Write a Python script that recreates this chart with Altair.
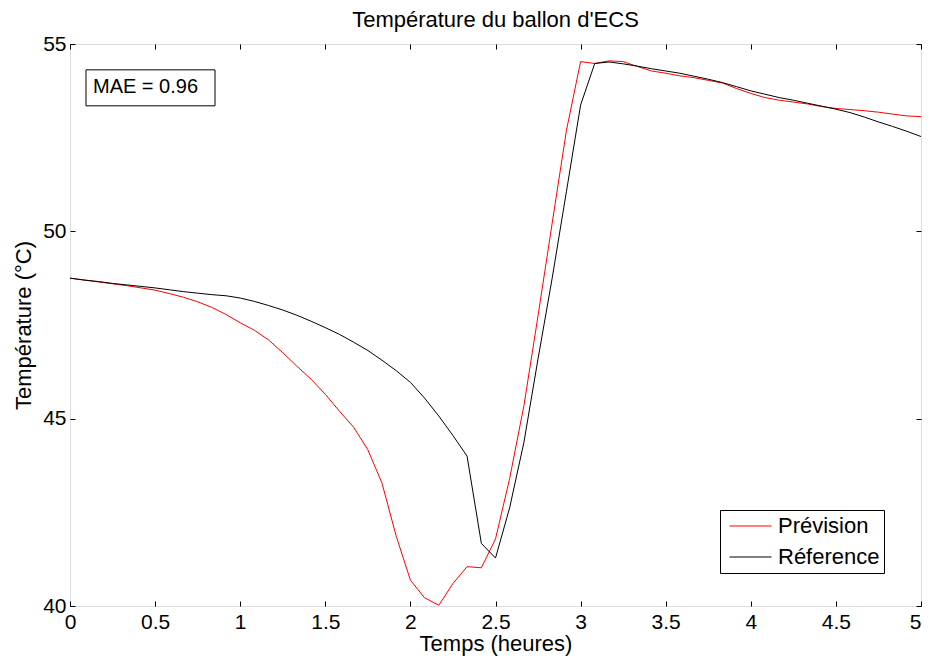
import altair as alt
import pandas as pd

# ---------------- data ----------------
time_h = [0.0, 0.083, 0.167, 0.25, 0.333, 0.417, 0.5, 0.583, 0.667, 0.75,
          0.833, 0.917, 1.0, 1.083, 1.167, 1.25, 1.333, 1.417, 1.5, 1.583,
          1.667, 1.75, 1.833, 1.917, 2.0, 2.083, 2.167, 2.25, 2.333, 2.417,
          2.5, 2.583, 2.667, 2.75, 2.833, 2.917, 3.0, 3.083, 3.167, 3.25,
          3.333, 3.417, 3.5, 3.583, 3.667, 3.75, 3.833, 3.917, 4.0, 4.083,
          4.167, 4.25, 4.333, 4.417, 4.5, 4.583, 4.667, 4.75, 4.833, 4.917, 5.0]

prevision = [48.75, 48.70, 48.65, 48.60, 48.55, 48.49, 48.43, 48.34, 48.24, 48.12,
             47.97, 47.78, 47.56, 47.36, 47.10, 46.76, 46.40, 46.05, 45.65, 45.20,
             44.77, 44.17, 43.28, 41.86, 40.69, 40.22, 40.02, 40.60, 41.05, 41.02,
             41.79, 43.40, 45.35, 47.75, 50.22, 52.70, 54.53, 54.48, 54.55, 54.53,
             54.40, 54.28, 54.22, 54.15, 54.10, 54.03, 53.96, 53.81, 53.68, 53.57,
             53.50, 53.45, 53.40, 53.33, 53.28, 53.25, 53.22, 53.18, 53.13, 53.08, 53.06]

reference = [48.75, 48.70, 48.66, 48.61, 48.57, 48.53, 48.49, 48.44, 48.39, 48.35,
             48.31, 48.28, 48.22, 48.13, 48.02, 47.90, 47.76, 47.60, 47.43, 47.25,
             47.04, 46.82, 46.56, 46.28, 45.97, 45.55, 45.07, 44.55, 44.00, 41.67,
             41.28, 42.62, 44.37, 46.60, 48.75, 51.07, 53.37, 54.48, 54.52, 54.47,
             54.41, 54.34, 54.28, 54.22, 54.14, 54.06, 53.97, 53.86, 53.75, 53.66,
             53.57, 53.50, 53.42, 53.34, 53.26, 53.17, 53.05, 52.92, 52.80, 52.67, 52.53]

series_names = ["Prévision", "Réference"]
series_colors = ["#ff0000", "#000000"]

x_ticks = [0, 0.5, 1, 1.5, 2, 2.5, 3, 3.5, 4, 4.5, 5]
y_ticks = [40, 45, 50, 55]
x_domain = [0, 5]
y_domain = [40, 55]

chart_title = "Température du ballon d'ECS"
x_title = "Temps (heures)"
y_title = "Température (°C)"

# annotation box (in data units)
mae_label = ["MAE = 0.96"]
mae_box_t = [0.094, 0.852]
mae_box_temp = [53.35, 54.31]
mae_text_t = [0.135]
mae_text_temp = [53.69]

# ---------------- layout ----------------
W, H = 851, 562
FONT = "Liberation Sans"

df_prev = pd.DataFrame({"t": time_h, "temp": prevision, "serie": series_names[0]})
df_ref = pd.DataFrame({"t": time_h, "temp": reference, "serie": series_names[1]})
df_box = pd.DataFrame({"t0": [mae_box_t[0]], "t1": [mae_box_t[1]],
                       "y0": [mae_box_temp[0]], "y1": [mae_box_temp[1]]})
df_txt = pd.DataFrame({"t": mae_text_t, "temp": mae_text_temp, "label": mae_label})

xscale = alt.Scale(domain=x_domain, nice=False, zero=False)
yscale = alt.Scale(domain=y_domain, nice=False, zero=False)

color = alt.Color(
    "serie:N",
    scale=alt.Scale(domain=series_names, range=series_colors),
    legend=alt.Legend(
        title=None, orient="none", legendX=650, legendY=466,
        direction="vertical",
        symbolType="stroke", symbolSize=1764, symbolStrokeWidth=1,
        symbolOffset=5, clipHeight=24,
        labelFontSize=22, labelFont=FONT, labelColor="black",
        labelExpr="datum.label + ' '",
        strokeColor="black", fillColor="white",
        padding=4, rowPadding=7, labelOffset=6,
    ),
)

def tick_axis(orient, offset, values):
    return alt.Axis(orient=orient, offset=offset, values=values, labels=False,
                    title=None, domain=False, grid=False, ticks=True,
                    tickSize=5, tickColor="black", tickWidth=1)

# main axes: labels + titles
x_main = alt.Axis(orient="bottom", values=x_ticks, format="~g", title=x_title,
                  ticks=False, domain=False, grid=False, labelFlush=False,
                  labelOverlap=False, labelPadding=5, labelFontSize=21,
                  labelAlign={"condition": {"test": "datum.value >= 5", "value": "right"},
                              "value": "center"},
                  titleFontSize=22, titlePadding=1, labelColor="black",
                  titleColor="black", titleFontWeight="normal",
                  labelFont=FONT, titleFont=FONT)
y_main = alt.Axis(orient="left", values=y_ticks, format="~g", title=y_title,
                  ticks=False, domain=False, grid=False, labelFlush=False,
                  labelOverlap=False, labelPadding=4, labelFontSize=21,
                  titleFontSize=22, titlePadding=7, labelColor="black",
                  titleColor="black", titleFontWeight="normal",
                  labelFont=FONT, titleFont=FONT)

prev_line = alt.Chart(df_prev).mark_line(strokeWidth=1).encode(
    x=alt.X("t:Q", scale=xscale, axis=x_main),
    y=alt.Y("temp:Q", scale=yscale, axis=y_main),
    color=color,
)

# inward ticks on the bottom edge and left edge
ref_line = alt.Chart(df_ref).mark_line(strokeWidth=1).encode(
    x=alt.X("t:Q", scale=xscale, axis=tick_axis("top", -H, x_ticks)),
    y=alt.Y("temp:Q", scale=yscale, axis=tick_axis("right", -W, y_ticks)),
    color=color,
)

# MAE box; its axes give inward ticks on the top and right edges
mae_box = alt.Chart(df_box).mark_rect(fill="white", stroke="black", strokeWidth=1).encode(
    x=alt.X("t0:Q", scale=xscale, axis=tick_axis("bottom", -H, x_ticks)),
    x2="t1:Q",
    y=alt.Y("y0:Q", scale=yscale, axis=tick_axis("left", -W, y_ticks)),
    y2="y1:Q",
)

mae_text = alt.Chart(df_txt).mark_text(
    align="left", baseline="alphabetic", fontSize=20, font=FONT, color="black"
).encode(
    x=alt.X("t:Q", scale=xscale, axis=None),
    y=alt.Y("temp:Q", scale=yscale, axis=None),
    text="label:N",
)

chart = alt.layer(prev_line, ref_line, mae_box, mae_text).resolve_axis(
    x="independent", y="independent"
).properties(
    width=W, height=H,
    title=alt.TitleParams(chart_title, fontSize=22, font=FONT, fontWeight="normal",
                          color="black", anchor="middle", offset=1),
    autosize=alt.AutoSizeParams(type="none"),
    padding={"left": 62, "top": 36, "right": 3, "bottom": 50},
).configure_view(
    stroke="black", strokeWidth=1
).configure(background="white")

chart.save("out.html", embed_options={"renderer": "svg", "actions": False})
